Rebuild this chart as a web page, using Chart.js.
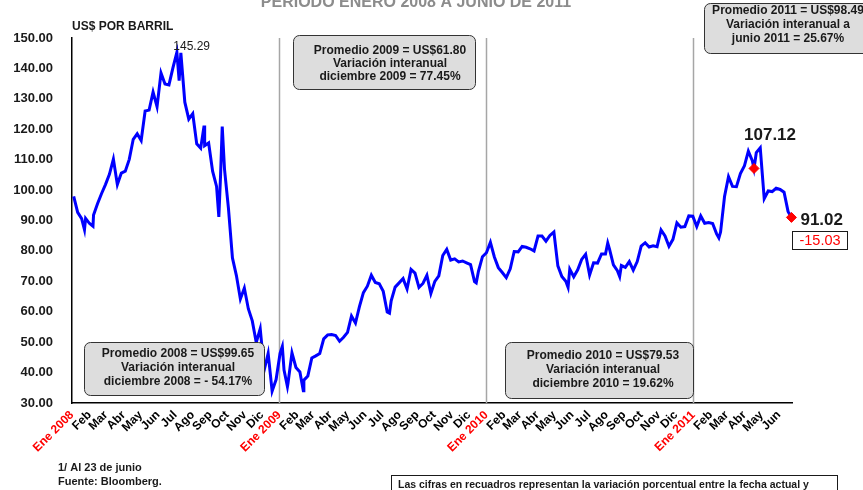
<!DOCTYPE html>
<html>
<head>
<meta charset="utf-8">
<script src="https://cdn.jsdelivr.net/npm/chart.js@4.4.0/dist/chart.umd.min.js"></script>
<style>
  html, body { margin: 0; padding: 0; background: #ffffff; }
  #wrap { width: 863px; height: 490px; position: relative; }
</style>
</head>
<body>
<div id="wrap"><canvas id="petroleoChart" width="863" height="490"></canvas></div>
<script>
// Precio del petróleo WTI, cierres semanales (viernes)
const inicioSemanal = '2008-01-04';
const precios2008 = [97.9, 92.7, 90.6, 90.7, 89.0, 91.8, 95.5, 98.8, 101.8, 105.2, 110.2, 101.8, 105.6,
  106.2, 110.1, 116.7, 118.5, 116.3, 126.0, 126.3, 132.2, 127.4, 138.5, 134.9, 134.6, 140.2,
  145.3, 145.1, 128.9, 123.3, 125.1, 115.2, 113.8, 114.6, 115.5, 106.2, 101.2, 104.6, 106.9,
  93.9, 77.7, 71.9, 64.2, 67.8, 61.0, 57.0, 49.9, 54.4, 40.8, 46.3, 33.9, 37.7];
const precios2009 = [46.3, 40.8, 36.5, 46.5, 41.7, 40.2, 37.5, 38.9, 44.8, 45.5, 46.3, 51.1, 52.4,
  52.5, 52.2, 50.3, 51.6, 53.2, 58.6, 56.3, 61.7, 66.3, 68.4, 72.0, 69.6, 69.2,
  66.7, 59.9, 63.6, 68.1, 69.5, 70.9, 67.5, 73.9, 72.7, 68.0, 69.3, 72.0, 66.0,
  70.0, 71.8, 78.5, 80.5, 77.0, 77.4, 76.4, 76.7, 76.1, 75.5, 69.9, 73.4, 78.1];
const precios2010 = [79.4, 82.8, 78.0, 74.5, 72.9, 71.2, 74.1, 79.8, 79.7, 81.5, 81.2, 80.7, 80.0,
  84.9, 84.9, 83.2, 85.1, 86.2, 75.1, 71.6, 70.0, 74.0, 71.5, 73.8, 77.2, 78.9,
  72.1, 76.1, 76.0, 79.0, 79.0, 80.7, 75.4, 73.5, 75.2, 74.6, 76.5, 73.7, 76.5,
  81.6, 82.7, 81.3, 81.7, 81.4, 86.9, 84.9, 81.5, 83.8, 89.2, 87.8, 88.0, 91.5];
const precios2011 = [91.4, 88.0, 91.5, 89.1, 89.3, 89.0, 85.6, 86.2, 97.9, 104.4, 101.2, 101.1, 105.4,
  107.9, 112.8, 109.7, 112.3, 113.9, 97.2, 99.7, 99.5, 100.6, 100.2, 99.3, 93.0];

// Cierres diarios destacados (picos y caídas visibles entre semanas)
const fechasExtra = ['2008-01-23', '2008-02-07', '2008-07-08', '2008-08-21', '2008-09-16', '2008-09-22',
  '2009-01-06', '2009-01-15', '2009-02-12', '2009-07-14', '2009-12-14', '2010-05-25',
  '2010-08-03', '2010-08-24', '2011-02-15', '2011-04-18', '2011-06-23'];
const preciosExtra = [87.0, 88.1, 136.0, 121.2, 91.2, 120.9, 48.6, 35.4, 34.0, 59.5, 69.5, 68.0,
  82.6, 71.6, 84.3, 107.12, 91.02];

// Puntos marcados en rojo
const marcasFechas = ['2011-04-18', '2011-06-23'];
const marcasValores = [107.12, 91.02];

// Eje
const nombresMes = ['Ene', 'Feb', 'Mar', 'Abr', 'May', 'Jun', 'Jul', 'Ago', 'Sep', 'Oct', 'Nov', 'Dic'];
const aniosEje = [2008, 2009, 2010, 2011];
const mesesFinal2011 = 6;
const ticksY = [30, 40, 50, 60, 70, 80, 90, 100, 110, 120, 130, 140, 150];

function dia(fecha) {
    const p = fecha.split('-').map(Number);
    return (Date.UTC(p[0], p[1] - 1, p[2]) - Date.UTC(2008, 0, 1)) / 86400000;
}

// Etiquetas y posiciones de meses
const etiquetasMes = [];
const posicionesMes = [];
aniosEje.forEach(function(anio) {
    const n = anio === 2011 ? mesesFinal2011 : 12;
    for (let m = 0; m < n; m++) {
        etiquetasMes.push(m === 0 ? nombresMes[m] + ' ' + anio : nombresMes[m]);
        posicionesMes.push((Date.UTC(anio, m, 1) - Date.UTC(2008, 0, 1)) / 86400000);
    }
});

// Serie completa
const semanal = precios2008.concat(precios2009, precios2010, precios2011);
const puntos = semanal.map(function(v, i) {
    return { x: dia(inicioSemanal) + 7 * i, y: v };
});
fechasExtra.forEach(function(f, i) {
    puntos.push({ x: dia(f), y: preciosExtra[i] });
});
puntos.sort(function(a, b) { return a.x - b.x; });

const marcas = marcasFechas.map(function(f, i) {
    return { x: dia(f), y: marcasValores[i] };
});

function cajaRedondeada(ctx, x, y, w, h, r) {
    ctx.beginPath();
    ctx.moveTo(x + r, y);
    ctx.arcTo(x + w, y, x + w, y + h, r);
    ctx.arcTo(x + w, y + h, x, y + h, r);
    ctx.arcTo(x, y + h, x, y, r);
    ctx.arcTo(x, y, x + w, y, r);
    ctx.closePath();
}

function recuadro(ctx, x, y, w, h, cx, lineas, ys) {
    cajaRedondeada(ctx, x, y, w, h, 6);
    ctx.fillStyle = '#dddddd';
    ctx.fill();
    ctx.lineWidth = 1;
    ctx.strokeStyle = '#333333';
    ctx.stroke();
    ctx.fillStyle = '#1a1a1a';
    ctx.font = 'bold 12px "Liberation Sans", Arial, sans-serif';
    ctx.textAlign = 'center';
    ctx.textBaseline = 'middle';
    lineas.forEach(function(t, i) { ctx.fillText(t, cx, ys[i]); });
}

const lineasAnio = {
    id: 'lineasAnio',
    beforeDatasetsDraw(chart) {
        const ctx = chart.ctx;
        const area = chart.chartArea;
        const xs = chart.scales.x;
        ctx.save();
        ctx.strokeStyle = '#a6a6a6';
        ctx.lineWidth = 1.5;
        ['2009-01-01', '2010-01-01', '2011-01-01'].forEach(function(f) {
            const px = Math.round(xs.getPixelForValue(dia(f))) + 0.5;
            ctx.beginPath();
            ctx.moveTo(px, area.top);
            ctx.lineTo(px, area.bottom);
            ctx.stroke();
        });
        ctx.restore();
    }
};

const anotaciones = {
    id: 'anotaciones',
    afterDraw(chart) {
        const ctx = chart.ctx;
        const xs = chart.scales.x;
        const ys = chart.scales.y;
        ctx.save();

        // Título recortado arriba
        ctx.fillStyle = '#8c8c8c';
        ctx.font = 'bold 16px "Liberation Sans", Arial, sans-serif';
        ctx.textAlign = 'center';
        ctx.textBaseline = 'alphabetic';
        ctx.fillText('PERIODO ENERO 2008 A JUNIO DE 2011', 416, 7);

        // Unidad
        ctx.fillStyle = '#1a1a1a';
        ctx.font = 'bold 12px "Liberation Sans", Arial, sans-serif';
        ctx.textAlign = 'left';
        ctx.textBaseline = 'middle';
        ctx.fillText('US$ POR BARRIL', 72, 27);

        // Máximo 2008
        ctx.font = '12px "Liberation Sans", Arial, sans-serif';
        ctx.fillText('145.29', xs.getPixelForValue(dia('2008-07-03')) - 3, ys.getPixelForValue(145.29) - 6);

        // Valores marcados
        const p1x = xs.getPixelForValue(marcas[0].x);
        const p1y = ys.getPixelForValue(marcas[0].y);
        const p2x = xs.getPixelForValue(marcas[1].x);
        const p2y = ys.getPixelForValue(marcas[1].y);
        ctx.font = 'bold 17px "Liberation Sans", Arial, sans-serif';
        ctx.textAlign = 'center';
        ctx.fillText(marcasValores[0].toFixed(2), p1x + 16, p1y - 33);
        ctx.textAlign = 'left';
        ctx.fillText(marcasValores[1].toFixed(2), p2x + 9, p2y + 3);

        const variacion = (marcasValores[1] / marcasValores[0] - 1) * 100;
        ctx.fillStyle = '#ffffff';
        ctx.fillRect(792.5, 231.5, 55, 18);
        ctx.strokeStyle = '#1a1a1a';
        ctx.lineWidth = 1;
        ctx.strokeRect(792.5, 231.5, 55, 18);
        ctx.fillStyle = '#ff0000';
        ctx.font = '14.5px "Liberation Sans", Arial, sans-serif';
        ctx.textAlign = 'center';
        ctx.fillText(variacion.toFixed(2), 820, 241);

        // Recuadros por año
        recuadro(ctx, 84.5, 342.5, 180, 53, 178,
            ['Promedio 2008 = US$99.65', 'Variación interanual', 'diciembre 2008 = - 54.17%'], [354, 368, 382]);
        recuadro(ctx, 293.5, 35.5, 182, 54, 390,
            ['Promedio 2009 = US$61.80', 'Variación interanual', 'diciembre 2009 = 77.45%'], [51, 64, 77]);
        recuadro(ctx, 505.5, 342.5, 188, 56, 603,
            ['Promedio 2010 = US$79.53', 'Variación interanual', 'diciembre 2010 = 19.62%'], [356, 370, 384]);
        recuadro(ctx, 704.5, 3.5, 175, 50, 788,
            ['Promedio 2011 = US$98.49', 'Variación interanual a', 'junio 2011 = 25.67%'], [11, 25, 39]);

        // Notas
        ctx.fillStyle = '#1a1a1a';
        ctx.font = 'bold 11px "Liberation Sans", Arial, sans-serif';
        ctx.textAlign = 'left';
        ctx.fillText('1/ Al 23 de junio', 58, 468);
        ctx.fillText('Fuente: Bloomberg.', 58, 482);

        ctx.strokeStyle = '#1a1a1a';
        ctx.lineWidth = 1;
        ctx.strokeRect(391.5, 475.5, 446, 20);
        ctx.font = 'bold 10.5px "Liberation Sans", Arial, sans-serif';
        ctx.fillText('Las cifras en recuadros representan la variación porcentual entre la fecha actual y', 398, 485, 435);

        ctx.restore();
    }
};

function initPetroleoChart() {
    const ctx = document.getElementById('petroleoChart').getContext('2d');

    const data = {
        datasets: [
            {
                label: 'WTI',
                data: puntos,
                borderColor: '#0000ff',
                borderWidth: 3,
                pointRadius: 0,
                tension: 0,
                fill: false,
                order: 2
            },
            {
                label: 'Marcas',
                data: marcas,
                showLine: false,
                clip: false,
                pointStyle: 'rectRot',
                pointRadius: 5,
                backgroundColor: '#ff0000',
                borderColor: '#ff0000',
                order: 1
            }
        ]
    };

    const config = {
        type: 'line',
        data: data,
        options: {
            responsive: false,
            animation: false,
            layout: {
                padding: { top: 38, right: 71, left: 0, bottom: 0 }
            },
            plugins: {
                legend: { display: false },
                tooltip: { enabled: false }
            },
            scales: {
                x: {
                    type: 'linear',
                    min: 0,
                    max: 1270,
                    grid: { display: false, drawTicks: false },
                    border: { display: true, color: '#000000', width: 1.5 },
                    afterBuildTicks: function(scale) {
                        scale.ticks = posicionesMes.map(function(v) { return { value: v }; });
                    },
                    afterFit: function(scale) { scale.height = 87; },
                    ticks: {
                        autoSkip: false,
                        minRotation: 45,
                        maxRotation: 45,
                        padding: 5,
                        font: { family: '"Liberation Sans", Arial, sans-serif', size: 12, weight: 'bold' },
                        color: function(c) { return c.index % 12 === 0 ? '#ff0000' : '#000000'; },
                        callback: function(value, index) { return etiquetasMes[index]; }
                    }
                },
                y: {
                    min: 30,
                    max: 150,
                    grid: { display: false, drawTicks: false },
                    border: { display: true, color: '#000000', width: 1.5 },
                    afterBuildTicks: function(scale) {
                        scale.ticks = ticksY.map(function(v) { return { value: v }; });
                    },
                    afterFit: function(scale) { scale.width = 72; },
                    ticks: {
                        padding: 19,
                        color: '#1a1a1a',
                        font: { family: '"Liberation Sans", Arial, sans-serif', size: 13, weight: 'bold' },
                        callback: function(value) { return value.toFixed(2); }
                    }
                }
            }
        },
        plugins: [lineasAnio, anotaciones]
    };

    new Chart(ctx, config);
}

document.addEventListener('DOMContentLoaded', initPetroleoChart);
</script>
</body>
</html>
